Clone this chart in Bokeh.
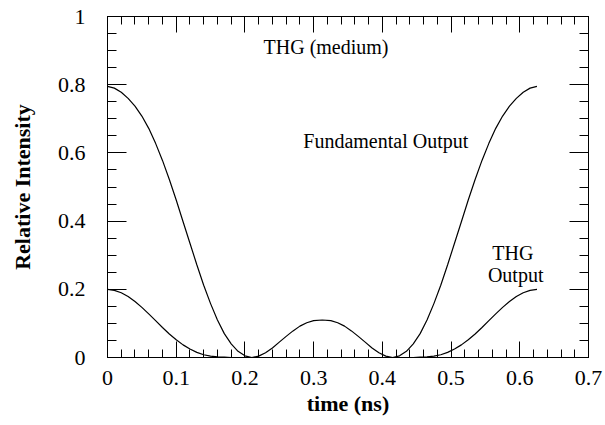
import numpy as np
from bokeh.plotting import figure
from bokeh.models import LinearAxis, FixedTicker, Range1d, Label
from bokeh.embed import file_html
from bokeh.resources import INLINE

# ---- data ----
time_fund = [0.00, 0.01, 0.02, 0.03, 0.04, 0.05, 0.06, 0.07, 0.08, 0.09, 0.10, 0.11,
             0.12, 0.13, 0.14, 0.15, 0.16, 0.17, 0.18, 0.19, 0.20, 0.21, 0.22, 0.23,
             0.24, 0.25, 0.26, 0.27, 0.28, 0.29, 0.30, 0.3125, 0.325, 0.335, 0.345,
             0.355, 0.365, 0.375, 0.385, 0.395, 0.405, 0.415, 0.425, 0.435, 0.445,
             0.455, 0.465, 0.475, 0.485, 0.495, 0.505, 0.515, 0.525, 0.535, 0.545,
             0.555, 0.565, 0.575, 0.585, 0.595, 0.605, 0.615, 0.625]
fundamental = [0.795, 0.790, 0.778, 0.760, 0.737, 0.708, 0.672, 0.628, 0.578, 0.522,
               0.462, 0.398, 0.335, 0.272, 0.212, 0.158, 0.110, 0.070, 0.040, 0.018,
               0.005, 0.000, 0.004, 0.014, 0.028, 0.045, 0.062, 0.078, 0.092, 0.102,
               0.108, 0.110, 0.108, 0.102, 0.092, 0.078, 0.062, 0.045, 0.028, 0.014,
               0.004, 0.000, 0.005, 0.018, 0.040, 0.070, 0.110, 0.158, 0.212, 0.272,
               0.335, 0.398, 0.462, 0.522, 0.578, 0.628, 0.672, 0.708, 0.737, 0.760,
               0.778, 0.790, 0.795]

time_thg = [0.00, 0.01, 0.02, 0.03, 0.04, 0.05, 0.06, 0.07, 0.08, 0.09, 0.10, 0.11,
            0.12, 0.13, 0.14, 0.15, 0.16, 0.17, 0.18, 0.25, 0.3125, 0.375, 0.445,
            0.455, 0.465, 0.475, 0.485, 0.495, 0.505, 0.515, 0.525, 0.535, 0.545,
            0.555, 0.565, 0.575, 0.585, 0.595, 0.605, 0.615, 0.625]
thg = [0.200, 0.197, 0.190, 0.179, 0.164, 0.147, 0.128, 0.108, 0.088, 0.069, 0.052,
       0.037, 0.025, 0.015, 0.008, 0.004, 0.002, 0.001, 0.000, 0.000, 0.000, 0.000,
       0.000, 0.001, 0.002, 0.004, 0.008, 0.015, 0.025, 0.037, 0.052, 0.069, 0.088,
       0.108, 0.128, 0.147, 0.164, 0.179, 0.190, 0.197, 0.200]

x_ticks = [0.0, 0.1, 0.2, 0.3, 0.4, 0.5, 0.6, 0.7]
x_tick_labels = ["0", "0.1", "0.2", "0.3", "0.4", "0.5", "0.6", "0.7"]
y_ticks = [0.0, 0.2, 0.4, 0.6, 0.8, 1.0]
y_tick_labels = ["0", "0.2", "0.4", "0.6", "0.8", "1"]

x_minor = [round(v, 3) for v in np.arange(0, 0.7001, 0.02)]
y_minor = [round(v, 3) for v in np.arange(0, 1.0001, 0.05)]

SERIF = "Liberation Serif"

p = figure(width=605, height=425, x_range=Range1d(0, 0.7), y_range=Range1d(0, 1),
           output_backend="svg", toolbar_location=None,
           x_axis_location=None, y_axis_location=None,
           min_border_left=107, min_border_right=17, min_border_top=16,
           min_border_bottom=68)
p.grid.visible = False
p.outline_line_color = "black"
p.outline_line_width = 1
p.background_fill_color = "white"
p.border_fill_color = "white"


def style_axis(ax, major_len, minor_len):
    ax.axis_line_color = "black"
    ax.axis_line_width = 1
    ax.major_tick_in = major_len
    ax.major_tick_out = 0
    ax.minor_tick_in = minor_len
    ax.minor_tick_out = 0
    ax.major_tick_line_color = "black"
    ax.minor_tick_line_color = "black"
    ax.major_label_text_font = SERIF
    ax.major_label_text_color = "black"
    ax.major_label_text_font_size = "22px"
    ax.axis_label_text_font = SERIF
    ax.axis_label_text_font_size = "22px"
    ax.axis_label_text_font_style = "bold"
    ax.axis_label_text_color = "black"


xt = FixedTicker(ticks=x_ticks, minor_ticks=x_minor)
yt = FixedTicker(ticks=y_ticks, minor_ticks=y_minor)

bottom = LinearAxis(ticker=xt, major_label_overrides=dict(zip(x_ticks, x_tick_labels)),
                    axis_label="time (ns)")
style_axis(bottom, 16, 8)
bottom.major_label_standoff = 13
bottom.axis_label_standoff = 3

top = LinearAxis(ticker=xt, major_label_overrides={t: "" for t in x_ticks})
style_axis(top, 16, 8)
top.major_label_standoff = 0

left = LinearAxis(ticker=yt, major_label_overrides=dict(zip(y_ticks, y_tick_labels)),
                  axis_label="Relative Intensity")
style_axis(left, 19, 9)
left.major_label_standoff = 22
left.axis_label_standoff = 20

right = LinearAxis(ticker=yt, major_label_overrides={t: "" for t in y_ticks})
style_axis(right, 19, 9)
right.major_label_standoff = 0

p.add_layout(bottom, "below")
p.add_layout(top, "above")
p.add_layout(left, "left")
p.add_layout(right, "right")

p.line(time_fund, fundamental, line_color="black", line_width=1.2)
p.line(time_thg, thg, line_color="black", line_width=1.2)

annotations = [
    ("THG (medium)", 0.318, 0.91),
    ("Fundamental Output", 0.405, 0.635),
    ("THG", 0.59, 0.305),
    ("Output", 0.594, 0.242),
]
for txt, ax_, ay_ in annotations:
    p.add_layout(Label(x=ax_, y=ay_, text=txt, text_font=SERIF, text_font_size="20px",
                       text_align="center", text_baseline="middle", text_color="black"))

open("out.html", "w").write(file_html(p, INLINE))
